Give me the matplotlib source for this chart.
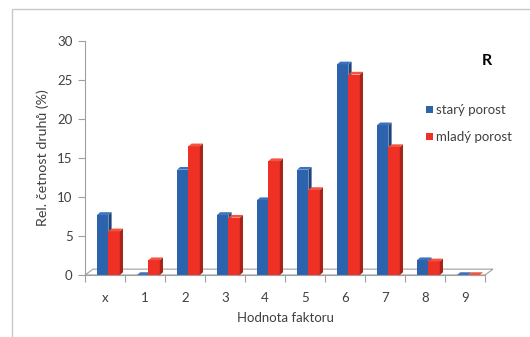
import matplotlib
matplotlib.use("Agg")
import matplotlib.pyplot as plt
from matplotlib.patches import Polygon, Rectangle
import numpy as np

categories = ["x", "1", "2", "3", "4", "5", "6", "7", "8", "9"]
stary = [7.7, 0.0, 13.5, 7.7, 9.6, 13.5, 27.0, 19.2, 1.9, 0.0]
mlady = [5.6, 1.9, 16.5, 7.35, 14.6, 10.9, 25.7, 16.4, 1.75, 0.0]
series_names = ["starý porost", "mladý porost"]
y_ticks = [0, 5, 10, 15, 20, 25, 30]

plt.rcParams['font.family'] = ['Lato', 'DejaVu Sans']
txt = '#404040'

fig = plt.figure(figsize=(5.3, 3.37), dpi=100)
fig.patches.append(Rectangle((12/530, -0.1), 1.2, (337-9)/337 + 0.1, transform=fig.transFigure,
                             fill=False, edgecolor='#c8c8c8', linewidth=1.0))
ax = fig.add_axes([85/530, (337-275)/337, 400/530, (275-41)/337])
ax.set_xlim(-0.5, 9.5)
ax.set_ylim(0, 30)

dx, dy = 0.08, 0.35
fdx, fdy = 0.2, 0.75
# floor
ax.add_patch(Polygon([(-0.5, 0), (-0.5 + fdx, fdy), (9.5 + fdx, fdy), (9.5, 0)], closed=True,
                     facecolor='white', edgecolor='#a0a0a0', linewidth=0.8, zorder=1, clip_on=False))

x = np.arange(len(categories))
w = 0.285
specs = [(stary, -0.2, '#2d63ad', '#1e4580', '#3b72bd'),
         (mlady, 0.085, '#ee3124', '#a8231a', '#f2543f')]
z = 2
for vals, off, front, side, top in specs:
    x0s = x + off
    ax.bar(x0s, vals, width=w, align='edge', color=front, zorder=z, linewidth=0)
    for x0, v in zip(x0s, vals):
        x1 = x0 + w
        ax.add_patch(Polygon([(x1, 0), (x1 + dx, dy), (x1 + dx, v + dy), (x1, v)], closed=True,
                             facecolor=side, edgecolor='none', zorder=z))
        ax.add_patch(Polygon([(x0, v), (x0 + dx, v + dy), (x1 + dx, v + dy), (x1, v)], closed=True,
                             facecolor=top, edgecolor='none', zorder=z))
    z += 1

for s in ['top', 'right']:
    ax.spines[s].set_visible(False)
ax.spines['left'].set_color('#a0a0a0')
ax.spines['bottom'].set_color('#a0a0a0')
ax.set_yticks(y_ticks)
ax.tick_params(axis='y', colors='#a0a0a0', labelcolor=txt, labelsize=9.5, length=5, pad=4)
ax.set_xticks(np.arange(-0.5, 10, 1))
ax.set_xticklabels([])
ax.set_xticks(x, minor=True)
ax.set_xticklabels(categories, minor=True)
ax.tick_params(axis='x', which='major', colors='#a0a0a0', length=5)
ax.tick_params(axis='x', which='minor', length=0, labelcolor=txt, labelsize=9.5, pad=12)

ax.set_ylabel("Rel. četnost druhů (%)", color=txt, fontsize=10.3, labelpad=6)
ax.set_xlabel("Hodnota faktoru", color=txt, fontsize=9.5, labelpad=6)

fig.text(487/530, 1 - 61/337, "R", fontsize=11.5, fontweight='bold', color='black',
         ha='center', va='center')
for i, (name, col) in enumerate(zip(series_names, ['#2d63ad', '#ee3124'])):
    yy = 1 - (110 + 27*i)/337
    fig.patches.append(Rectangle((426/530, yy - 3.5/337), 7/530, 7/337, transform=fig.transFigure,
                                 facecolor=col, edgecolor='none'))
    fig.text(436/530, yy, name, fontsize=9.5, color=txt, ha='left', va='center')

fig.savefig("out.png", dpi=100)
